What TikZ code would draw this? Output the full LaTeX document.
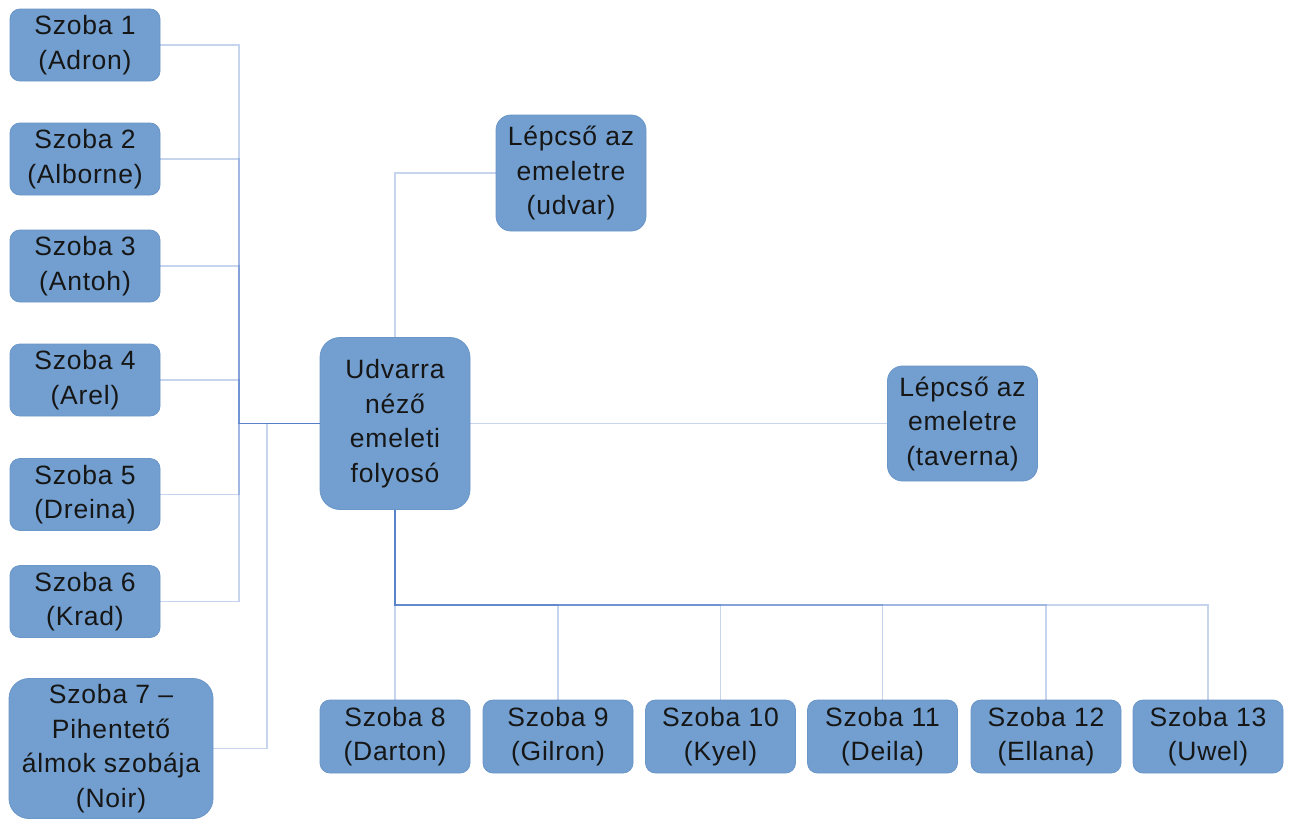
\documentclass[tikz,border=0pt]{standalone}
\usepackage{fontspec}
\setmainfont{Liberation Sans}[LetterSpace=3]
\definecolor{boxfill}{HTML}{729FCF}
\definecolor{boxedge}{HTML}{6A96C8}
\definecolor{linkblue}{RGB}{68,114,196}
\definecolor{txt}{HTML}{161616}
\begin{document}
\begin{tikzpicture}[x=1pt,y=-1pt,
  room/.style={draw=boxedge, line width=0.8pt, fill=boxfill, rounded corners=10pt,
    align=center, inner sep=0pt, text=txt,
    font=\fontsize{26.5}{34.5}\selectfont,
    minimum width=150pt, minimum height=72pt},
  link/.style={draw=linkblue, draw opacity=0.3, line width=1.6pt}]
\useasboundingbox (0,0) rectangle (1290,819);

% central corridor
\node[room, rounded corners=20pt, minimum height=172pt] (c) at (395,423.5)
  {Udvarra\\néző\\emeleti\\folyosó};

% staircases
\node[room, rounded corners=15pt, minimum height=116pt] (up) at (571,173)
  {Lépcső az\\emeletre\\(udvar)};
\node[room, rounded corners=15pt, minimum height=115pt] (tav) at (962.5,423.5)
  {Lépcső az\\emeletre\\(taverna)};

% rooms on the left
\node[room] (s1) at (85,45)    {Szoba 1\\(Adron)};
\node[room] (s2) at (85,159)   {Szoba 2\\(Alborne)};
\node[room] (s3) at (85,266)   {Szoba 3\\(Antoh)};
\node[room] (s4) at (85,380)   {Szoba 4\\(Arel)};
\node[room] (s5) at (85,494.5) {Szoba 5\\(Dreina)};
\node[room] (s6) at (85,601.5) {Szoba 6\\(Krad)};
\node[room, rounded corners=20pt, minimum width=204pt, minimum height=140pt] (s7) at (111,748.5)
  {Szoba 7 –\\Pihentető\\álmok szobája\\(Noir)};

% rooms along the bottom
\node[room, minimum height=73pt] (s8)  at (395,736.5)   {Szoba 8\\(Darton)};
\node[room, minimum height=73pt] (s9)  at (558,736.5)   {Szoba 9\\(Gilron)};
\node[room, minimum height=73pt] (s10) at (720.5,736.5) {Szoba 10\\(Kyel)};
\node[room, minimum height=73pt] (s11) at (882.5,736.5) {Szoba 11\\(Deila)};
\node[room, minimum height=73pt] (s12) at (1046,736.5)  {Szoba 12\\(Ellana)};
\node[room, minimum height=73pt] (s13) at (1208,736.5)  {Szoba 13\\(Uwel)};

% bus junctions
\coordinate (lbus) at (239,423.5);
\coordinate (lbus7) at (267,423.5);
\coordinate (bbus) at (395,605);

% connectors
\draw[link] (c.north) |- (up.west);
\draw[link] (c.east) -- (tav.west);
\foreach \r in {s1,s2,s3,s4,s5,s6}
  \draw[link] (c.west) -- (lbus) |- (\r.east);
\draw[link] (c.west) -- (lbus7) |- (s7.east);
\draw[link] (c.south) -- (s8.north);
\foreach \r in {s9,s10,s11,s12,s13}
  \draw[link] (c.south) -- (bbus) -| (\r.north);
\end{tikzpicture}
\end{document}
